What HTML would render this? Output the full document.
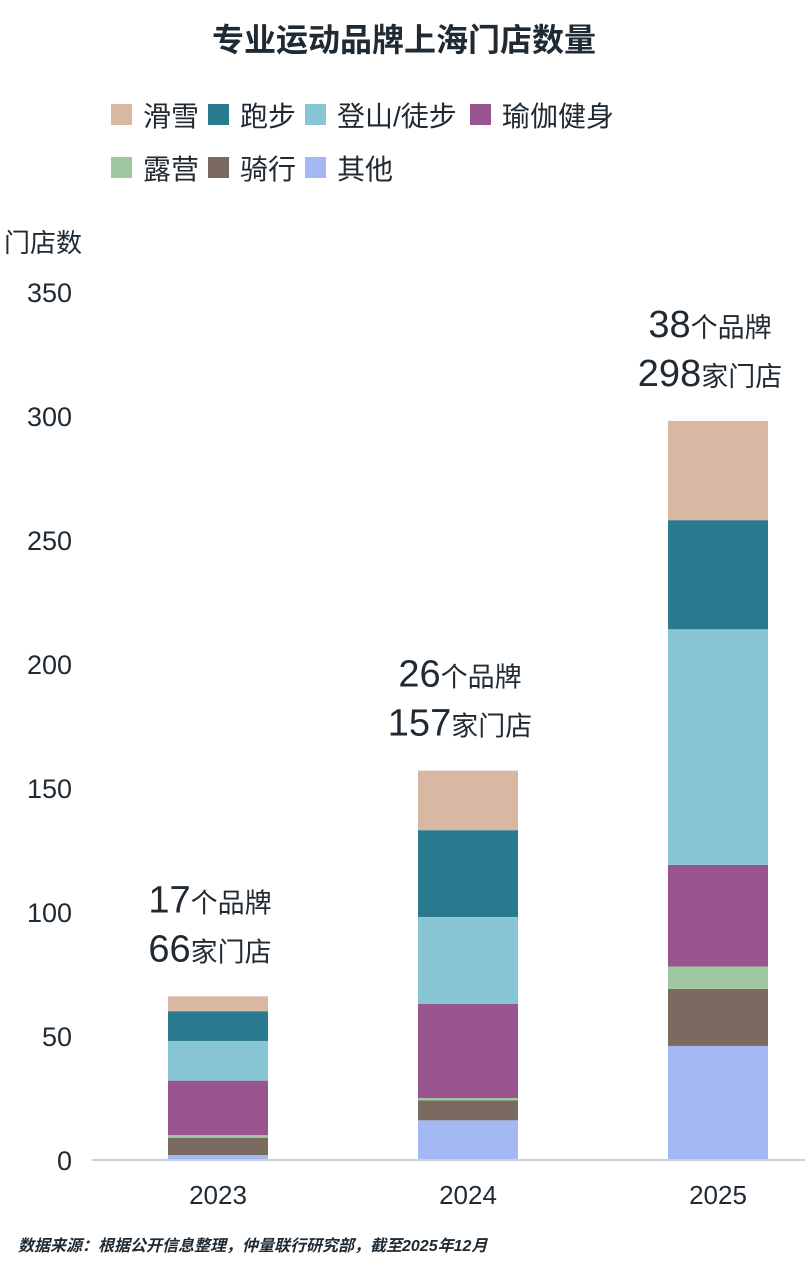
<!DOCTYPE html>
<html><head><meta charset="utf-8">
<style>
body{margin:0;background:#fff;}
svg text{font-family:"Liberation Sans","Noto Sans CJK SC",sans-serif;fill:#1f2a33;}
</style></head>
<body>
<svg width="809" height="1280" viewBox="0 0 809 1280" xmlns="http://www.w3.org/2000/svg">
<text x="404" y="51" text-anchor="middle" font-size="32" font-weight="bold">专业运动品牌上海门店数量</text>
<g id="legend"></g>
<text x="4" y="252" font-size="26">门店数</text>
<g id="yaxis"></g>
<g id="bars"></g>
<g id="ann"></g>
<line x1="92" y1="1160" x2="805" y2="1160" stroke="#c9d3e0" stroke-width="2"/>
<g id="xaxis"></g>
<text x="18" y="1251" font-size="16" font-style="italic" font-weight="bold">数据来源：根据公开信息整理，仲量联行研究部，截至2025年12月</text>
</svg>
<script>
const years=["2023","2024","2025"];
const seriesNames=["其他","骑行","露营","瑜伽健身","登山/徒步","跑步","滑雪"];
const other=[2,16,46];
const cycling=[7,8,23];
const camping=[1,1,9];
const yoga=[22,38,41];
const hiking=[16,35,95];
const running=[12,35,44];
const ski=[6,24,40];
const brands=[17,26,38];
const stores=[66,157,298];
const yTicks=[0,50,100,150,200,250,300,350];
const colors=["#a4b8f4","#7a6a60","#9fc8a0","#98558f","#88c6d6","#2a7a8f","#d8b8a2"];
const NS="http://www.w3.org/2000/svg";
const y=v=>1160-v*2.48;
const xc=i=>218+i*250;
const bw=100;
function mk(tag,attrs,parent){const e=document.createElementNS(NS,tag);for(const k in attrs)e.setAttribute(k,attrs[k]);parent.appendChild(e);return e;}
const ya=document.getElementById('yaxis');
yTicks.forEach(t=>{const e=mk('text',{x:72,y:y(t)+10,'text-anchor':'end','font-size':27},ya);e.textContent=t;

});
const xa=document.getElementById('xaxis');
years.forEach((yr,i)=>{const e=mk('text',{x:xc(i),y:1204,'text-anchor':'middle','font-size':26},xa);e.textContent=yr;

});
const series=[other,cycling,camping,yoga,hiking,running,ski];
const bg=document.getElementById('bars');
years.forEach((yr,i)=>{let c=0;series.forEach((s,k)=>{const v=s[i];const r=mk('rect',{x:xc(i)-bw/2,y:y(c+v),width:bw,height:v*2.48,fill:colors[k]},bg);

c+=v;});});
const an=document.getElementById('ann');
years.forEach((yr,i)=>{let tot=0;series.forEach(s=>tot+=s[i]);const top=y(tot);const cx=xc(i)-8;
const t1=mk('text',{x:cx,y:top-84,'text-anchor':'middle'},an);t1.innerHTML='<tspan font-size="38">'+brands[i]+'</tspan><tspan font-size="27">个品牌</tspan>';


const t2=mk('text',{x:cx,y:top-35,'text-anchor':'middle'},an);t2.innerHTML='<tspan font-size="38">'+stores[i]+'</tspan><tspan font-size="27">家门店</tspan>';

});
const lg=document.getElementById('legend');
const legOrder=[6,5,4,3,2,1,0];
const legPos=[[111,115],[208,115],[305,115],[470,115],[111,168],[208,168],[305,168]];
legOrder.forEach((k,j)=>{const [lx,ly]=legPos[j];
const r=mk('rect',{x:lx,y:ly-11,width:21,height:21,fill:colors[k]},lg);


const t=mk('text',{x:lx+32,y:ly+11,'font-size':28},lg);t.textContent=seriesNames[k];

});
</script>
</body></html>
